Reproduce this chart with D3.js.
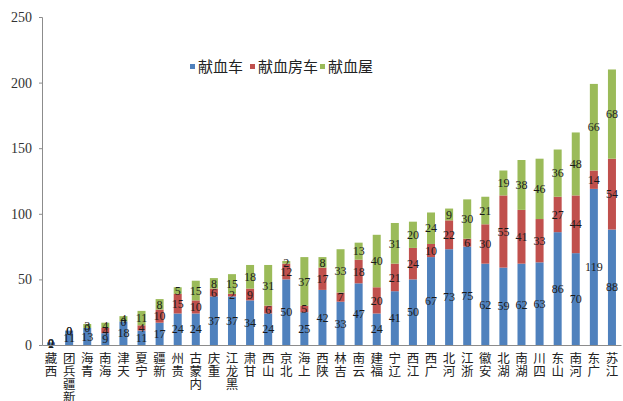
<!DOCTYPE html>
<html>
<head>
<meta charset="utf-8">
<script src="https://cdn.jsdelivr.net/npm/d3@7/dist/d3.min.js"></script>
<style>
  html, body { margin: 0; padding: 0; background: #fff; }
  svg { display: block; }
</style>
</head>
<body>
<svg id="chart" width="623" height="401"></svg>
<script>
const categories = ["西藏","新疆兵团","青海","海南","天津","宁夏","新疆","贵州","内蒙古","重庆","黑龙江","甘肃","山西","北京","上海","陕西","吉林","云南","福建","辽宁","江西","广西","河北","浙江","安徽","湖北","湖南","四川","山东","河南","广东","江苏"];
const seriesNames = ["献血车","献血房车","献血屋"];
const bloodBus   = [2,11,13,9,18,11,17,24,24,37,37,34,24,50,25,42,33,47,24,41,50,67,73,75,62,59,62,63,86,70,119,88];
const bloodVan   = [0,0,0,4,0,4,10,15,10,6,2,9,6,12,5,17,7,18,20,21,24,10,22,6,30,55,41,33,27,44,14,54];
const bloodHouse = [0,0,3,4,4,11,8,5,15,8,15,18,31,2,37,8,33,13,40,31,20,24,9,30,21,19,38,46,36,48,66,68];
const yTicks = [0,50,100,150,200,250];
const colors = ["#4F81BD","#C0504D","#9BBB59"];

const svg = d3.select("#chart");
const margin = {left: 42, right: 2, top: 17, bottom: 56};
const W = 623, H = 401;

const x = d3.scaleBand().domain(categories).range([margin.left, W - margin.right]).paddingInner(0).paddingOuter(0);
const y = d3.scaleLinear().domain([0, 250]).range([H - margin.bottom, margin.top]);

const table = categories.map((c, i) => ({cat: c, "献血车": bloodBus[i], "献血房车": bloodVan[i], "献血屋": bloodHouse[i]}));
const stacked = d3.stack().keys(seriesNames)(table);

const barW = 8;

// bars
const g = svg.append("g");
stacked.forEach((layer, si) => {
  g.selectAll(null).data(layer).enter().append("rect")
    .attr("x", d => x(d.data.cat) + x.bandwidth()/2 - barW/2)
    .attr("y", d => y(d[1]))
    .attr("width", barW)
    .attr("height", d => y(d[0]) - y(d[1]))
    .attr("fill", colors[si]);
});

// value labels
stacked.forEach((layer, si) => {
  g.selectAll(null).data(layer).enter().append("text")
    .attr("x", d => x(d.data.cat) + x.bandwidth()/2)
    .attr("y", d => (y(d[0]) + y(d[1]))/2)
    .attr("dy", "0.35em")
    .attr("text-anchor", "middle")
    .attr("font-family", "'Liberation Serif', serif")
    .attr("font-size", 12)
    .attr("fill", "#1a1a1a")
    .text(d => d.data[seriesNames[si]]);
});

// y axis
const yAxis = d3.axisLeft(y).tickValues(yTicks).tickSize(3).tickPadding(7);
const ya = svg.append("g").attr("transform", `translate(${margin.left},0)`).call(yAxis);
ya.select(".domain").attr("stroke", "#8c8c8c");
ya.selectAll(".tick line").attr("stroke", "#8c8c8c");
ya.selectAll(".tick text").attr("font-family", "'Liberation Serif', serif").attr("font-size", 14).attr("fill", "#333");

// x axis
const xAxis = d3.axisBottom(x).tickSize(0).tickFormat("");
const xa = svg.append("g").attr("transform", `translate(0,${y(0)})`).call(xAxis);
xa.select(".domain").attr("stroke", "#8c8c8c");

// category labels: upright characters stacked bottom-to-top
const labG = svg.append("g");
categories.forEach(c => {
  const chars = Array.from(c).reverse();
  const t = labG.append("text")
    .attr("text-anchor", "middle")
    .attr("font-family", "'Noto Sans CJK SC', sans-serif")
    .attr("font-size", 12.5)
    .attr("fill", "#222");
  chars.forEach((ch, k) => {
    t.append("tspan")
      .attr("x", x(c) + x.bandwidth()/2)
      .attr("y", y(0) + 18 + k * 13)
      .text(ch);
  });
});

// legend
const legend = svg.append("g");
const legX = [190, 250, 320];
seriesNames.forEach((n, i) => {
  legend.append("rect").attr("x", legX[i]).attr("y", 64).attr("width", 5).attr("height", 5).attr("fill", colors[i]);
  legend.append("text").attr("x", legX[i] + 8).attr("y", 67).attr("dy", "0.35em")
    .attr("font-family", "'Noto Sans CJK SC', sans-serif")
    .attr("font-size", 15)
    .attr("fill", "#222")
    .text(n);
});
</script>
</body>
</html>
